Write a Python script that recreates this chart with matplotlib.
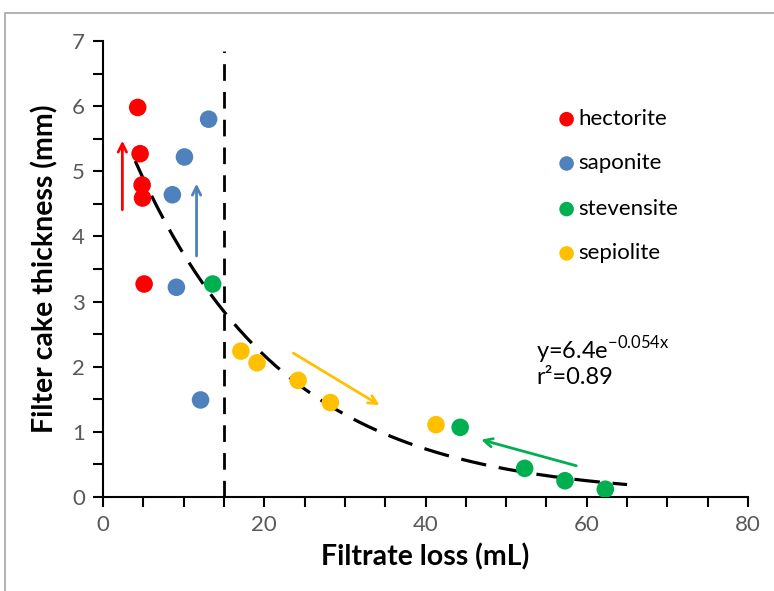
import numpy as np
import matplotlib
matplotlib.use("Agg")
from matplotlib import pyplot as plt
from matplotlib.patches import Rectangle

plt.rcParams['font.family'] = ['Lato', 'DejaVu Sans']
plt.rcParams['mathtext.fontset'] = 'custom'
plt.rcParams['mathtext.rm'] = 'Lato'

# data
hectorite_x = [4.3, 4.6, 4.85, 4.9, 5.1]
hectorite_y = [5.98, 5.27, 4.79, 4.59, 3.27]
saponite_x = [13.1, 10.1, 8.6, 9.1, 12.1]
saponite_y = [5.80, 5.22, 4.64, 3.22, 1.49]
stevensite_x = [13.6, 44.3, 52.3, 57.3, 62.3]
stevensite_y = [3.27, 1.07, 0.44, 0.25, 0.12]
sepiolite_x = [17.1, 19.1, 24.2, 28.2, 41.3]
sepiolite_y = [2.24, 2.06, 1.79, 1.45, 1.11]

fit_a = 6.4
fit_b = -0.054
fit_range = [4.0, 65.0]
cutoff_x = 15

series = [
    ('hectorite', hectorite_x, hectorite_y, '#FF0000'),
    ('saponite', saponite_x, saponite_y, '#4F81BD'),
    ('stevensite', stevensite_x, stevensite_y, '#00B050'),
    ('sepiolite', sepiolite_x, sepiolite_y, '#FFC000'),
]

fig = plt.figure(figsize=(7.74, 5.91), dpi=100)
ax = fig.add_axes([0.1331, 0.159, 0.8333, 0.7716])

# fitted curve
xf = np.linspace(fit_range[0], fit_range[1], 200)
ax.plot(xf, fit_a * np.exp(fit_b * xf), color='black', lw=2.3,
        dashes=(8, 4), zorder=2)

# vertical cut line
ax.plot([cutoff_x, cutoff_x], [0, 6.85], color='black', lw=2.0,
        dashes=(6, 4), zorder=2)

for name, xs, ys, c in series:
    ax.scatter(xs, ys, s=160, color=c, edgecolors='none', zorder=3)

# arrows
arrows = [
    ((2.4, 4.41), (2.4, 5.47), '#FF0000'),
    ((11.6, 3.70), (11.6, 4.81), '#4F81BD'),
    ((23.6, 2.21), (34.3, 1.41), '#FFC000'),
    ((58.7, 0.48), (46.9, 0.88), '#00B050'),
]
for start, end, c in arrows:
    ax.annotate('', xy=end, xytext=start,
                arrowprops=dict(arrowstyle='->,head_length=0.6,head_width=0.3',
                                color=c, lw=2.0, shrinkA=0, shrinkB=0))

# legend drawn by hand
leg_y = [5.8, 5.12, 4.42, 3.74]
for (name, xs, ys, c), ly in zip(series, leg_y):
    ax.scatter([57.5], [ly], s=110, color=c, edgecolors='none', clip_on=False)
    ax.text(59.0, ly, name, fontsize=16, va='center', ha='left', color='black')

ax.text(53.7, 2.26, 'y=6.4e$^{\\mathregular{-0.054x}}$', fontsize=17,
        va='center', ha='left')
ax.text(53.7, 1.83, 'r²=0.89', fontsize=17, va='center', ha='left')

ax.set_xlim(0, 80)
ax.set_ylim(0, 7)
ax.set_xticks(np.arange(0, 81, 20))
ax.set_xticks(np.arange(0, 81, 5), minor=True)
ax.set_yticks(np.arange(0, 8, 1))
ax.set_yticks(np.arange(0, 7.01, 0.5), minor=True)
ax.tick_params(which='both', direction='out', length=7, width=1.5, color='black')
ax.tick_params(which='major', labelsize=16, labelcolor='#595959', pad=6)
for s in ['top', 'right']:
    ax.spines[s].set_visible(False)
for s in ['left', 'bottom']:
    ax.spines[s].set_linewidth(1.5)

ax.set_xlabel('Filtrate loss (mL)', fontsize=20.5, fontweight='bold', labelpad=6)
ax.set_ylabel('Filter cake thickness (mm)', fontsize=20.5, fontweight='bold', labelpad=10)

# outer frame
fig.patches.append(Rectangle((5 / 774, -0.05), 1.0, 1 - 13 / 591 + 0.05,
                             transform=fig.transFigure, fill=False,
                             edgecolor='#a6a6a6', lw=1.2))

fig.savefig('out.png', dpi=100)
